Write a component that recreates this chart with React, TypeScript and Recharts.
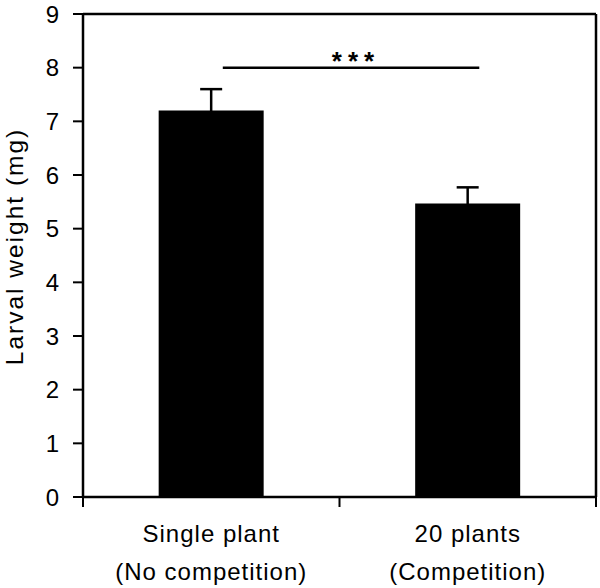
import React from 'react';
import { BarChart, Bar, XAxis, YAxis, ErrorBar, ReferenceLine } from 'recharts';

const categories = ['Single plant', '20 plants'];
const subLabels = ['(No competition)', '(Competition)'];
const weights = [7.2, 5.47];
const errors = [0.4, 0.3];
const yTicks = [0, 1, 2, 3, 4, 5, 6, 7, 8, 9];
const sigLevel = 8;
const sigText = '***';
const sigShift = 0.045;
const yLabel = 'Larval weight (mg)';

const data = categories.map((c, i) => ({ name: c, sub: subLabels[i], value: weights[i], err: errors[i] }));

const FONT = '"Liberation Sans", Arial, Helvetica, sans-serif';

const XTick = (props: any) => {
  const { x, y, payload, index, width, visibleTicksCount } = props;
  const sub = subLabels[index] ?? '';
  const n = visibleTicksCount || categories.length;
  const half = (width || 0) / n / 2;
  const axisY = props.axisY ?? y;
  return (
    <g>
      <line x1={x - half} x2={x - half} y1={axisY} y2={axisY + 10} stroke="#000" strokeWidth={2} />
      {index === n - 1 && (
        <line x1={x + half} x2={x + half} y1={axisY} y2={axisY + 10} stroke="#000" strokeWidth={2} />
      )}
      <text x={x} textAnchor="middle" fontSize={24} fontFamily={FONT} fill="#000" letterSpacing={1}>
        <tspan x={x} y={axisY + 45}>{payload.value}</tspan>
        <tspan x={x} y={axisY + 83}>{sub}</tspan>
      </text>
    </g>
  );
};

const YLabel = (props: any) => {
  const vb = props.viewBox || {};
  const cy = (vb.y ?? 0) + (vb.height ?? 0) / 2 - 9;
  const cx = 23;
  return (
    <text x={cx} y={cy} transform={`rotate(-90, ${cx}, ${cy})`} textAnchor="middle" fontSize={24.5} fontFamily={FONT} fill="#000" letterSpacing={2}>
      {yLabel}
    </text>
  );
};

const SigShape = (props: any) => {
  const { x1, x2, y1 } = props;
  if (x1 == null || x2 == null || y1 == null) return null;
  const shift = (x2 - x1) * sigShift;
  const a = x1 + shift;
  const b = x2 + shift;
  return (
    <g>
      <line x1={a} x2={b} y1={y1} y2={y1} stroke="#000" strokeWidth={2.5} />
      <text x={(a + b) / 2 + 5} y={y1 + 2} textAnchor="middle" fontSize={26} fontWeight="bold" fontFamily={FONT} fill="#000" letterSpacing={6}>
        {sigText}
      </text>
    </g>
  );
};

export default function App() {
  return (
    <div style={{ position: 'absolute', left: 0, top: 0, width: 600, height: 588, background: '#fff' }}>
      <BarChart width={600} height={588} data={data} margin={{ top: 14, right: 0, bottom: 0, left: 0 }} barCategoryGap="29.5%">
        <XAxis
          dataKey="name"
          height={91}
          axisLine={{ stroke: '#000', strokeWidth: 2.5 }}
          tickLine={false}
          tickSize={0}
          tickMargin={0}
          tick={(p: any) => <XTick {...p} axisY={497} />}
          interval={0}
        />
        <YAxis
          domain={[0, 9]}
          ticks={yTicks}
          width={83}
          tickSize={10}
          tickMargin={14}
          interval={0}
          axisLine={{ stroke: '#000', strokeWidth: 2.5 }}
          tickLine={{ stroke: '#000', strokeWidth: 2 }}
          tick={{ fontSize: 24, fill: '#000', fontFamily: FONT }}
          label={<YLabel />}
        />
        <YAxis
          yAxisId="r"
          orientation="right"
          domain={[0, 9]}
          width={4}
          tick={false}
          tickLine={false}
          axisLine={{ stroke: '#000', strokeWidth: 2.5 }}
        />
        <ReferenceLine y={9} stroke="#000" strokeWidth={2.5} />
        <Bar dataKey="value" fill="#000" isAnimationActive={false}>
          <ErrorBar dataKey="err" width={11} strokeWidth={2.5} stroke="#000" direction="y" isAnimationActive={false} />
        </Bar>
        <ReferenceLine
          segment={[{ x: categories[0], y: sigLevel }, { x: categories[1], y: sigLevel }]}
          ifOverflow="visible"
          shape={(p: any) => <SigShape {...p} />}
        />
      </BarChart>
    </div>
  );
}
